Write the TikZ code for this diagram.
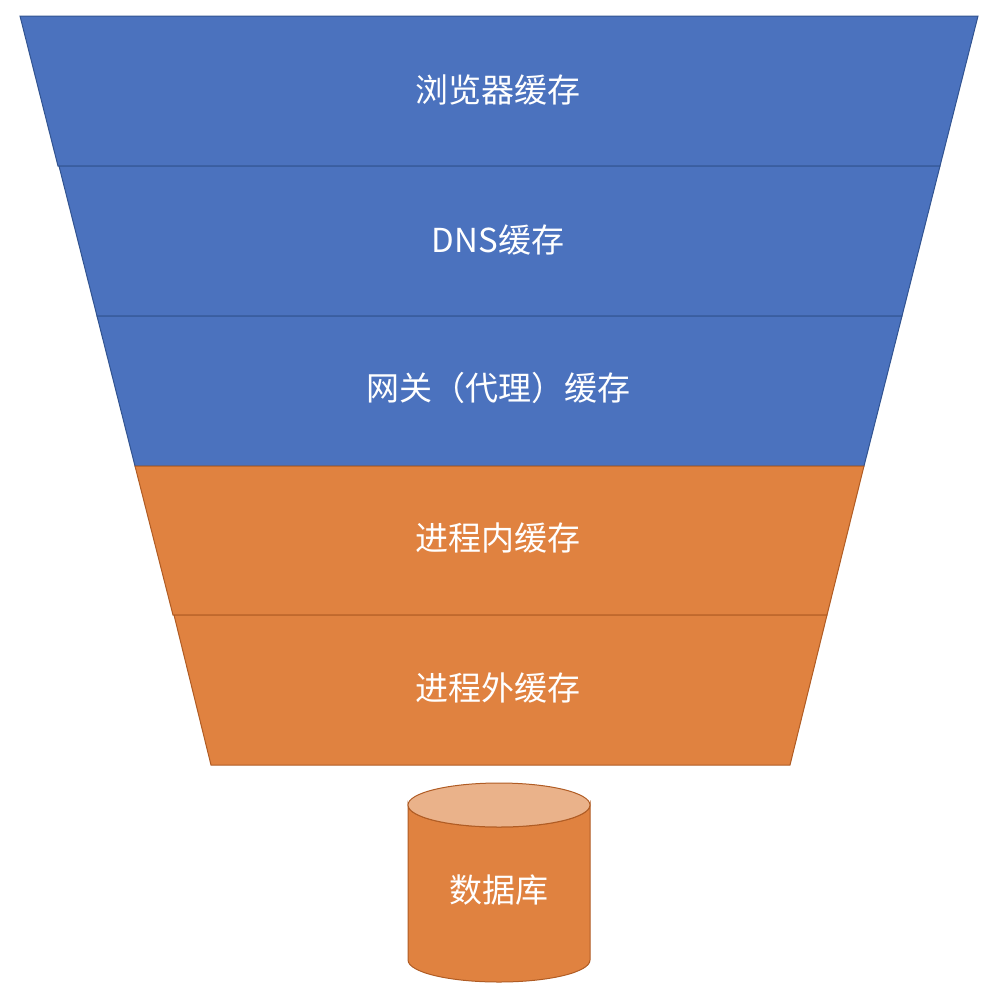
\documentclass[tikz,border=0pt]{standalone}
\usepackage{fontspec}
\newfontfamily\cjk{Noto Sans CJK SC}
\definecolor{fblue}{RGB}{75,114,190}
\definecolor{fblueline}{RGB}{50,84,145}
\definecolor{forange}{RGB}{224,130,64}
\definecolor{forangeline}{RGB}{176,92,36}
\definecolor{ftop}{RGB}{234,178,138}
\tikzset{
  x=1pt,y=-1pt,
  bluelayer/.style={fill=fblue,draw=fblueline,line width=1pt},
  orangelayer/.style={fill=forange,draw=forangeline,line width=1pt},
  label/.style={text=white,font=\cjk\fontsize{33}{38}\selectfont,inner sep=0pt},
}
\begin{document}
\begin{tikzpicture}
\useasboundingbox (0,0) rectangle (998,991);
% layers
\draw[bluelayer] (20,16) -- (978,16) -- (940,166) -- (58,166) -- cycle;
\draw[bluelayer] (59,166) -- (940,166) -- (902,316) -- (97,316) -- cycle;
\draw[bluelayer] (97,316) -- (902,316) -- (864,466) -- (135,466) -- cycle;
\draw[orangelayer] (135,466) -- (864,466) -- (827,615) -- (173,615) -- cycle;
\draw[orangelayer] (174,615) -- (827,615) -- (790,765) -- (211,765) -- cycle;
\node[label] (l1) at (498,90) {浏览器缓存};
\node[label] (l2) at (498,240) {DNS缓存};
\node[label] (l3) at (498,388) {网关（代理）缓存};
\node[label] (l4) at (498,538) {进程内缓存};
\node[label] (l5) at (498,688) {进程外缓存};
% database cylinder
\draw[orangelayer] (408,805) -- (408,960) arc[start angle=180,end angle=360,x radius=91,y radius=-22] -- (590,805) arc[start angle=0,end angle=180,x radius=91,y radius=22] -- cycle;
\draw[orangelayer,fill=ftop] (499,805) ellipse[x radius=91,y radius=22];
\node[label] (db) at (499,890) {数据库};
\end{tikzpicture}
\end{document}
